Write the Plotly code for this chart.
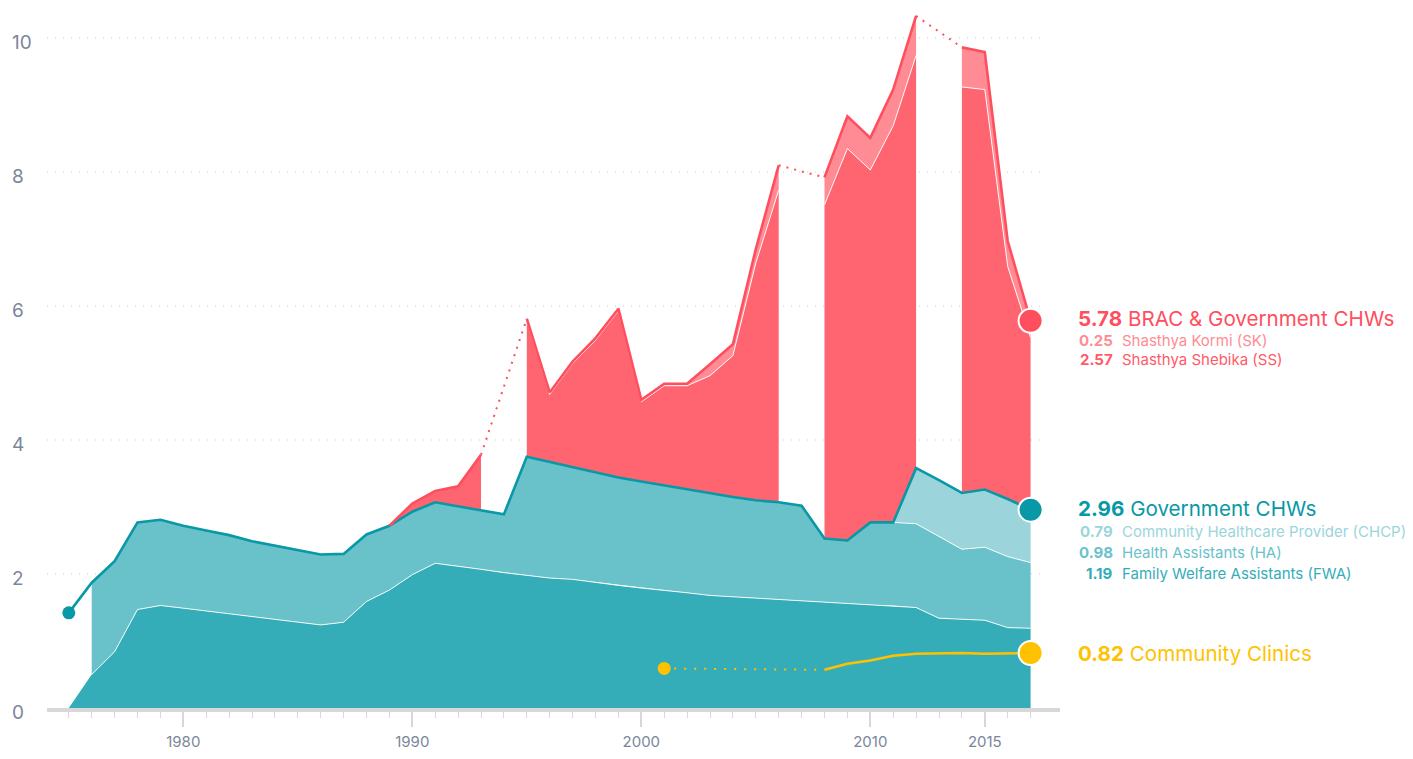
import plotly.graph_objects as go

# ---------------- data ----------------
years = list(range(1975, 2018))

# Government CHWs components, stacked from bottom
fwa = [0.00, 0.50, 0.84, 1.47, 1.53, 1.49, 1.45, 1.40, 1.36, 1.32,
       1.28, 1.24, 1.28, 1.59, 1.76, 1.99, 2.16, 2.12, 2.07, 2.02,
       1.98, 1.94, 1.92, 1.87, 1.83, 1.79, 1.76, 1.72, 1.68, 1.66,
       1.64, 1.62, 1.60, 1.58, 1.56, 1.54, 1.53, 1.50, 1.34, 1.32,
       1.31, 1.20, 1.19]
ha = [None, 1.37, 1.35, 1.30, 1.28, 1.23, 1.20, 1.18, 1.13, 1.10,
      1.08, 1.05, 1.02, 1.00, 0.96, 0.94, 0.91, 0.89, 0.88, 0.87,
      1.77, 1.73, 1.67, 1.65, 1.61, 1.59, 1.56, 1.54, 1.52, 1.49,
      1.46, 1.45, 1.42, 0.95, 0.94, 1.23, 1.24, 1.25, 1.22, 1.05,
      1.09, 1.06, 0.98]
chcp = [None] * 36 + [0.00, 0.83, 0.84, 0.84, 0.86, 0.86, 0.79]
gov_total_1975 = 1.42

# BRAC CHWs (stacked on top of government CHWs)
ss = [None] * 14 + [0.00, 0.12, 0.17, 0.30, 0.83, None,
                    2.03, 1.01, 1.55, 1.97, 2.49, 1.19, 1.49, 1.55, 1.76, 2.11,
                    3.54, 4.66, None, 4.98, 5.85, 5.26, 5.92, 6.16, None, 6.06,
                    5.97, 3.47, 2.57]
sk = [None] * 14 + [0.00, 0.00, 0.00, 0.00, 0.00, None,
                    0.03, 0.03, 0.03, 0.03, 0.03, 0.03, 0.03, 0.03, 0.17, 0.17,
                    0.21, 0.37, None, 0.41, 0.48, 0.48, 0.54, 0.59, None, 0.59,
                    0.56, 0.38, 0.25]

# Community clinics
cc = [None] * 26 + [0.59, None, None, None, None, None, None,
                    0.57, 0.66, 0.71, 0.78, 0.81, 0.82, 0.82, 0.81, 0.82, 0.82]

x_tick_vals = [1975, 1980, 1985, 1990, 1995, 2000, 2005, 2010, 2015]
x_tick_text = ["", "1980", "", "1990", "", "2000", "", "2010", "2015"]
y_tick_vals = [0, 2, 4, 6, 8, 10]

# ---------------- styling ----------------
FWA_C = "#35ADB9"
HA_C = "#69C2CA"
CHCP_C = "#9BD5DB"
GOV_C = "#0898A6"
SS_C = "#FF6571"
SK_C = "#FF8C94"
RED_C = "#FF4E5E"
YEL_C = "#FFC200"
AXIS_TXT = "#7B869B"
GRID_C = "#CCCCCC"
FONT = "Inter"

# page geometry (the html body adds an 8px margin around the figure)
PAGE_W, PAGE_H, BODY = 1413, 759, 8
FIG_W, FIG_H = PAGE_W - BODY, PAGE_H - 2 * BODY
L, R, T, B = 47, 1060, 10, 708          # plot area in page pixels
PW, PH = R - L, B - T
PX_PER_YEAR = 22.9
PX_PER_UNIT = 67.0
x0 = 1975 - (68.8 - L) / PX_PER_YEAR
x_range = [x0, x0 + PW / PX_PER_YEAR]
y_range = [0, PH / PX_PER_UNIT]


def px_x(px):
    return (px - L) / PW


def px_y(py):
    return (B - py) / PH


def segments(vals):
    segs, cur = [], []
    for i, v in enumerate(vals):
        if v is None:
            if cur:
                segs.append(cur)
            cur = []
        else:
            cur.append(i)
    if cur:
        segs.append(cur)
    return segs


def add(a, b):
    return [None if (p is None or q is None) else p + q for p, q in zip(a, b)]


zeros = [0.0] * len(years)
fwa_top = fwa
ha_top = add(fwa, ha)
chcp_top = add(ha_top, chcp)
gov_line = [gov_total_1975] + [
    (chcp_top[i] if chcp_top[i] is not None else ha_top[i]) for i in range(1, len(years))
]
ss_top = add(gov_line, ss)
sk_top = add(ss_top, sk)

fig = go.Figure()


def band(lower, upper, color):
    for seg in segments(upper):
        idx = [i for i in seg if lower[i] is not None]
        xs = [years[i] for i in idx] + [years[i] for i in reversed(idx)]
        ys = [upper[i] for i in idx] + [lower[i] for i in reversed(idx)]
        fig.add_trace(go.Scatter(x=xs, y=ys, mode="lines", fill="toself",
                                 fillcolor=color, line=dict(width=0, color=color),
                                 hoverinfo="skip", showlegend=False))


def seg_line(vals, color, width, start=None):
    xs, ys = [], []
    for seg in segments(vals):
        idx = [i for i in seg if start is None or years[i] >= start]
        xs += [years[i] for i in idx] + [None]
        ys += [vals[i] for i in idx] + [None]
    fig.add_trace(go.Scatter(x=xs, y=ys, mode="lines",
                             line=dict(color=color, width=width),
                             hoverinfo="skip", showlegend=False))


def gap_connectors(vals, color, width, dash):
    segs = segments(vals)
    for a, b in zip(segs[:-1], segs[1:]):
        fig.add_trace(go.Scatter(x=[years[a[-1]], years[b[0]]],
                                 y=[vals[a[-1]], vals[b[0]]], mode="lines",
                                 line=dict(color=color, width=width, dash=dash),
                                 hoverinfo="skip", showlegend=False))


# teal stack
band(zeros, fwa_top, FWA_C)
band(fwa_top, ha_top, HA_C)
band(ha_top, chcp_top, CHCP_C)
seg_line(fwa_top, "rgba(255,255,255,0.9)", 1, start=1976)
seg_line([v if c is not None else None for v, c in zip(ha_top, chcp)],
         "rgba(255,255,255,0.9)", 1)

# red stack
band(gov_line, ss_top, SS_C)
band(ss_top, sk_top, SK_C)
seg_line(ss_top, "rgba(255,255,255,0.9)", 1)

# lines
fig.add_trace(go.Scatter(x=years, y=gov_line, mode="lines",
                         line=dict(color=GOV_C, width=2.6),
                         hoverinfo="skip", showlegend=False))
seg_line(sk_top, RED_C, 2.6)
gap_connectors(sk_top, RED_C, 2, "2px,6px")

seg_line(cc, YEL_C, 2.6, start=2002)
gap_connectors(cc, YEL_C, 2, "2px,8px")

# start dots
fig.add_trace(go.Scatter(x=[years[0]], y=[gov_line[0]], mode="markers",
                         marker=dict(color=GOV_C, size=13),
                         hoverinfo="skip", showlegend=False))
first_cc = segments(cc)[0][0]
fig.add_trace(go.Scatter(x=[years[first_cc]], y=[cc[first_cc]], mode="markers",
                         marker=dict(color=YEL_C, size=13),
                         hoverinfo="skip", showlegend=False))
# end dots
for vals, col in [(sk_top, RED_C), (gov_line, GOV_C), (cc, YEL_C)]:
    fig.add_trace(go.Scatter(x=[years[-1]], y=[vals[-1]], mode="markers",
                             marker=dict(color=col, size=24,
                                         line=dict(color="white", width=2)),
                             hoverinfo="skip", showlegend=False))

# dotted horizontal gridlines (stop short of the axis end like the reference)
shapes = []
for v in y_tick_vals[1:]:
    shapes.append(dict(type="line", xref="paper", yref="y", x0=0, x1=px_x(1041),
                       y0=v, y1=v, layer="below",
                       line=dict(color=GRID_C, width=1, dash="1px,7px")))

# y tick labels (left aligned)
annotations = []
for v in y_tick_vals:
    annotations.append(dict(x=px_x(10), xref="paper", y=v, yref="y",
                            text=str(v), showarrow=False, xanchor="left",
                            yanchor="middle", yshift=-4,
                            font=dict(family=FONT, size=19, color=AXIS_TXT)))


# right-hand labels
def main_label(py, value, text, color):
    annotations.append(dict(x=px_x(1076), xref="paper", y=px_y(py), yref="paper",
                            text=f"<b>{value:.2f}</b> {text}", showarrow=False,
                            xanchor="left", yanchor="middle",
                            font=dict(family=FONT, size=20.6, color=color)))


def sub_label(py, value, text, color):
    annotations.append(dict(x=px_x(1115), xref="paper", y=px_y(py), yref="paper",
                            text=f"<b>{value:.2f}</b>", showarrow=False,
                            xanchor="right", yanchor="middle",
                            font=dict(family=FONT, size=15, color=color)))
    annotations.append(dict(x=px_x(1120), xref="paper", y=px_y(py), yref="paper",
                            text=text, showarrow=False,
                            xanchor="left", yanchor="middle",
                            font=dict(family=FONT, size=15, color=color)))


main_label(318, sk_top[-1], "BRAC &amp; Government CHWs", RED_C)
sub_label(340, sk[-1], "Shasthya Kormi (SK)", SK_C)
sub_label(359, ss[-1], "Shasthya Shebika (SS)", "#FF5A67")
main_label(508, gov_line[-1], "Government CHWs", GOV_C)
sub_label(531, chcp[-1], "Community Healthcare Provider (CHCP)", CHCP_C)
sub_label(552, ha[-1], "Health Assistants (HA)", HA_C)
sub_label(573, fwa[-1], "Family Welfare Assistants (FWA)", FWA_C)
main_label(653, cc[-1], "Community Clinics", YEL_C)

fig.update_layout(
    width=FIG_W, height=FIG_H, autosize=False,
    margin=dict(l=L - BODY, r=FIG_W - (R - BODY), t=T - BODY, b=FIG_H - (B - BODY)),
    paper_bgcolor="white", plot_bgcolor="white",
    showlegend=False,
    font=dict(family=FONT, color=AXIS_TXT),
    annotations=annotations,
    shapes=shapes,
    xaxis=dict(range=x_range, showgrid=False, zeroline=False, automargin=False,
               showline=True, linecolor="#D8D8D8", linewidth=4,
               ticks="outside", ticklen=15, tickwidth=1.5, tickcolor="#D8D8D8",
               tickvals=x_tick_vals, ticktext=x_tick_text,
               ticklabelstandoff=2,
               tickfont=dict(family=FONT, size=15, color=AXIS_TXT),
               minor=dict(tickvals=years, ticks="outside", ticklen=6,
                          tickwidth=1.2, tickcolor="#D8D8D8", showgrid=False),
               fixedrange=True),
    yaxis=dict(range=y_range, showgrid=False, zeroline=False, showline=False,
               automargin=False, showticklabels=False, fixedrange=True),
)

fig.write_html("out.html")
